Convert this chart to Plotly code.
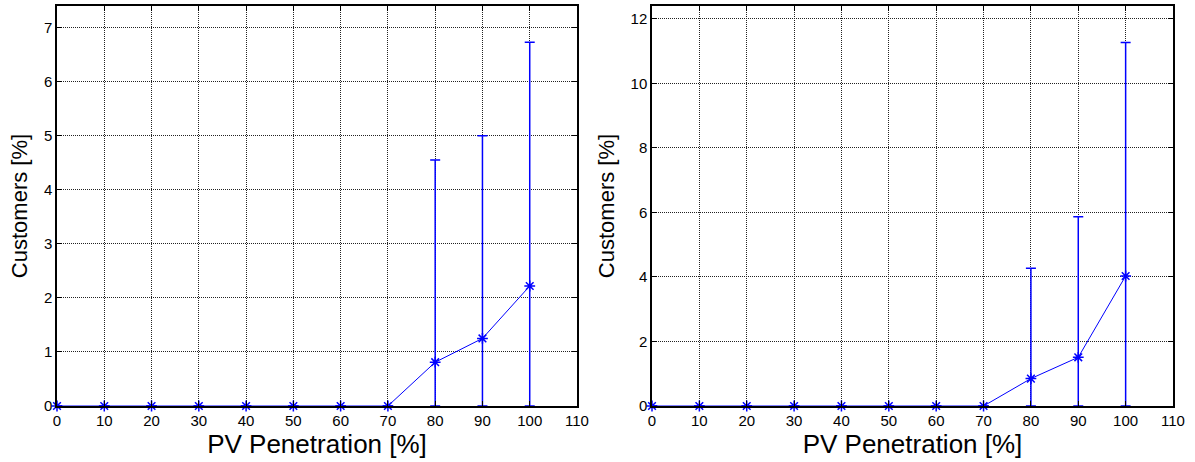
import plotly.graph_objects as go

pv = [0, 10, 20, 30, 40, 50, 60, 70, 80, 90, 100]
left_mean = [0, 0, 0, 0, 0, 0, 0, 0, 0.81, 1.25, 2.22]
left_upper = [0, 0, 0, 0, 0, 0, 0, 0, 4.55, 5.0, 6.73]
right_mean = [0, 0, 0, 0, 0, 0, 0, 0, 0.85, 1.51, 4.03]
right_upper = [0, 0, 0, 0, 0, 0, 0, 0, 4.27, 5.87, 11.27]
x_ticks = list(range(0, 111, 10))
left_yticks = [0, 1, 2, 3, 4, 5, 6, 7]
right_yticks = [0, 2, 4, 6, 8, 10, 12]

BLUE = "#0000ff"
FONT = "Liberation Sans, Arial, sans-serif"

fig = go.Figure()

def add(mean, upper, xa, ya):
    fig.add_trace(go.Scatter(
        x=pv, y=mean, mode="lines+markers", xaxis=xa, yaxis=ya,
        line=dict(color=BLUE, width=1),
        marker=dict(symbol="asterisk-open", size=9, color=BLUE,
                    line=dict(color=BLUE, width=1.5)),
        error_y=dict(type="data", symmetric=False,
                     array=[u - m for u, m in zip(upper, mean)],
                     arrayminus=mean, color=BLUE, thickness=1.5, width=5),
        showlegend=False, cliponaxis=False,
    ))

add(left_mean, left_upper, "x", "y")
add(right_mean, right_upper, "x2", "y2")

ydom = [(462 - 406) / 462, (462 - 6) / 462]
common_axis = dict(
    showline=True, linecolor="black", linewidth=1.5, mirror="ticks",
    ticks="inside", ticklen=5, tickcolor="black", tickwidth=1,
    showgrid=True, gridcolor="#222", griddash="1px,1px", gridwidth=1,
    zeroline=False, tickfont=dict(family=FONT, size=15, color="black"),
    automargin=False,
)
xtitle = dict(text="PV Penetration [%]", font=dict(family=FONT, size=26), standoff=4)
ytitle = dict(text="Customers [%]", font=dict(family=FONT, size=22), standoff=10)

fig.update_layout(
    width=1195, height=462, margin=dict(l=0, r=0, t=0, b=0),
    paper_bgcolor="white", plot_bgcolor="white",
    font=dict(family=FONT, color="black"),
    xaxis=dict(common_axis, domain=[57 / 1195, 577 / 1195], range=[0, 110],
               tickvals=x_ticks, anchor="y", title=xtitle),
    yaxis=dict(common_axis, domain=ydom, range=[0, 7.4], tickvals=left_yticks, anchor="x",
               title=ytitle),
    xaxis2=dict(common_axis, domain=[652 / 1195, 1173 / 1195], range=[0, 110],
                tickvals=x_ticks, anchor="y2", title=xtitle),
    yaxis2=dict(common_axis, domain=ydom, range=[0, 12.4], tickvals=right_yticks, anchor="x2",
                title=ytitle),
)

fig.write_html("out.html", config={"displayModeBar": False},
               post_script="document.body.style.margin='0';document.body.style.overflow='hidden';")
